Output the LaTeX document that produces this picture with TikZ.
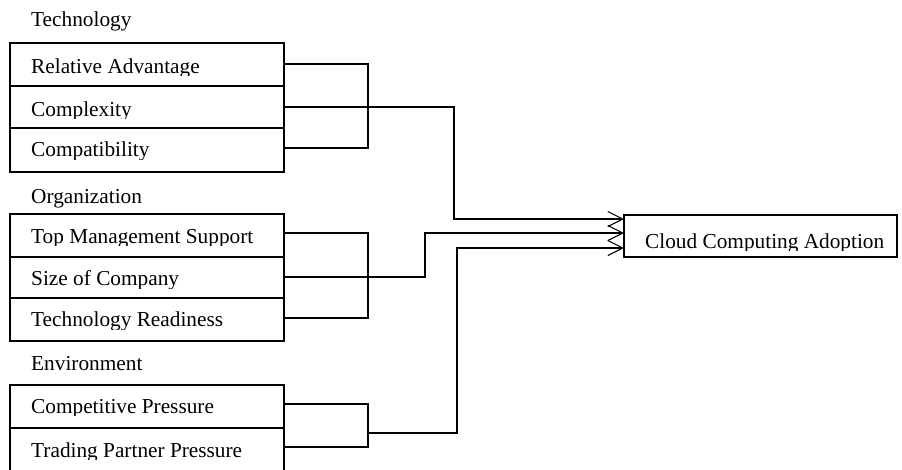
\documentclass[tikz,border=0pt]{standalone}
\usepackage{fontspec}
\setmainfont{Liberation Serif}
\usetikzlibrary{arrows.meta}

% one factor box: name, top, bottom, baseline, text
% the label is clipped a little below its baseline
\newcommand\factorbox[5]{%
  \node[factor, minimum height={#3-#2}, anchor=north west] (#1) at (10,#2) {};
  \begin{scope}
    \clip (10,#2) rectangle (284,#4+2.6);
    \node[lbl] (#1-t) at (31,#4) {#5};
  \end{scope}}

\begin{document}
\begin{tikzpicture}[x=1pt, y=-1pt,
  lbl/.style={anchor=base west, inner sep=0pt, font=\fontsize{21.3}{25}\selectfont},
  factor/.style={draw, line width=2.1pt, inner sep=0pt, outer sep=0pt, minimum width=274pt},
  target/.style={draw, line width=2.1pt, inner sep=0pt, outer sep=0pt, minimum width=273pt, minimum height=42pt, anchor=north west},
  wire/.style={line width=1.1pt},
  feed/.style={wire, -{Straight Barb[length=15pt, width=15pt, line width=1.1pt]}}]

\path[use as bounding box] (0,0) rectangle (902,469);
\clip (0,0) rectangle (902,469);

% group headings
\node[lbl] (tech) at (31,26.7) {Technology};
\node[lbl] (org)  at (31,203)  {Organization};
\node[lbl] (env)  at (31,370)  {Environment};

% technology factors
\factorbox{ra}{43}{86}{73.3}{Relative Advantage}
\factorbox{cx}{86}{128}{116}{Complexity}
\factorbox{cb}{128}{172}{156.7}{Compatibility}

% organization factors
\factorbox{tm}{214}{257}{243.3}{Top Management Support}
\factorbox{sc}{257}{298}{285.7}{Size of Company}
\factorbox{tr}{298}{341}{326.7}{Technology Readiness}

% environment factors
\factorbox{cp}{385}{428}{413.3}{Competitive Pressure}
\factorbox{tp}{428}{474}{457.3}{Trading Partner Pressure}

% outcome
\node[target] (cca) at (624,215) {};
\begin{scope}
  \clip (624,215) rectangle (897,250.9);
  \node[lbl] (cca-t) at (645,248.3) {Cloud Computing Adoption};
\end{scope}

\coordinate (in1) at (cca.west |- 0,219);
\coordinate (in2) at (cca.west |- 0,233);
\coordinate (in3) at (cca.west |- 0,248);

% technology bracket and feed
\draw[wire] (ra.east |- 0,64) -- (368,64) -- (368,148) -- (cb.east |- 0,148);
\draw[feed] (cx.east |- 0,107) -| (454,219) -- (in1);

% organization bracket and feed
\draw[wire] (tm.east |- 0,233) -- (368,233) -- (368,318) -- (tr.east |- 0,318);
\draw[feed] (sc.east |- 0,277) -- (425,277) |- (in2);

% environment bracket and feed
\draw[wire] (cp.east |- 0,404) -- (368,404) -- (368,447) -- (tp.east |- 0,447);
\coordinate (em) at (368,433);
\draw[feed] (em) -| (457,248) -- (in3);

\end{tikzpicture}
\end{document}
